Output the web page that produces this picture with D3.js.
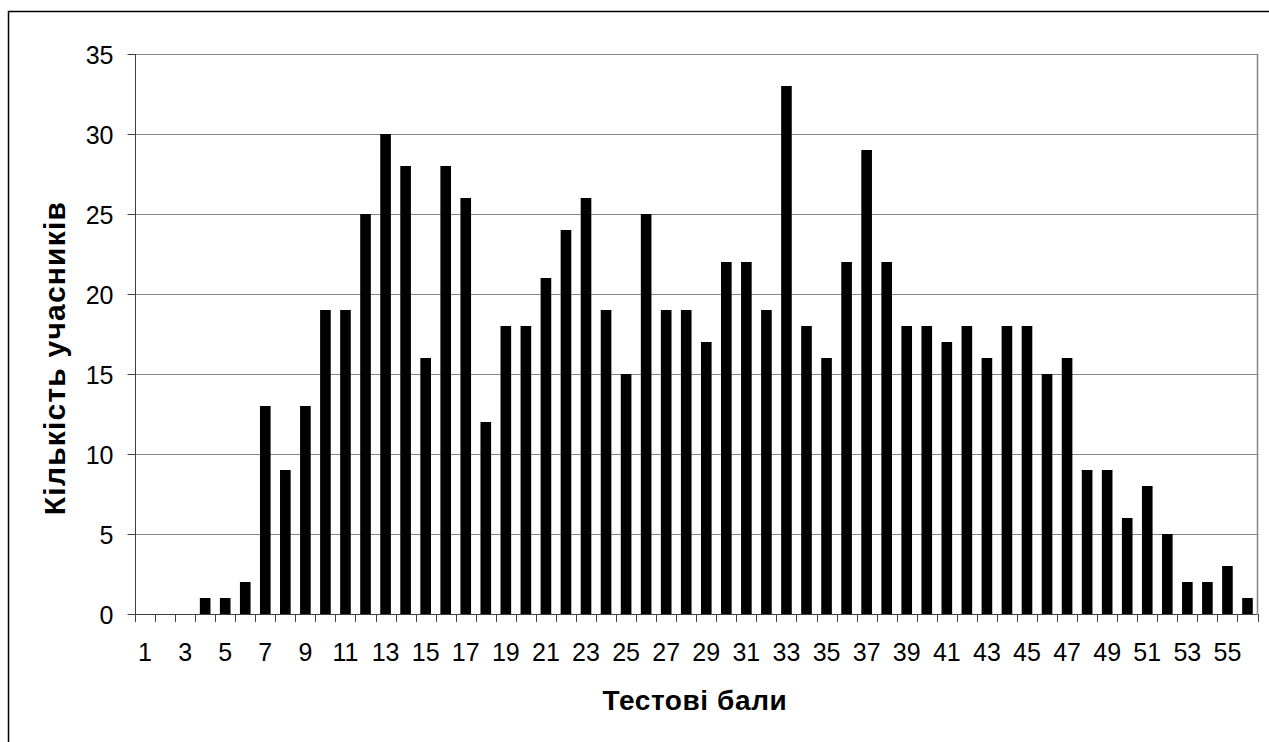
<!DOCTYPE html>
<html>
<head>
<meta charset="utf-8">
<script src="https://cdn.jsdelivr.net/npm/d3@7"></script>
<style>
  html, body { margin: 0; padding: 0; background: #fff; }
  svg { display: block; }
  text { font-family: "Liberation Sans", Arial, sans-serif; fill: #000; }
</style>
</head>
<body>
<svg id="chart" width="1269" height="742"></svg>
<script>
const categories = d3.range(1, 57);
const counts = [0, 0, 0, 1, 1, 2, 13, 9, 13, 19, 19, 25, 30, 28, 16, 28, 26, 12, 18, 18,
                21, 24, 26, 19, 15, 25, 19, 19, 17, 22, 22, 19, 33, 18, 16, 22, 29, 22, 18, 18,
                17, 18, 16, 18, 18, 15, 16, 9, 9, 6, 8, 5, 2, 2, 3, 1];
const yTicks = [0, 5, 10, 15, 20, 25, 30, 35];
const xTitle = "Тестові бали";
const yTitle = "Кількість учасників";

const svg = d3.select("#chart");
const plotLeft = 135, plotRight = 1257.5, plotTop = 54, plotBottom = 614;

// outer chart border
svg.append("rect")
  .attr("x", 8.5).attr("y", 11.5)
  .attr("width", 1300).attr("height", 800)
  .attr("fill", "none").attr("stroke", "#000").attr("stroke-width", 1.5);

const x = d3.scaleBand().domain(categories).range([plotLeft, plotRight])
  .paddingInner(0.47).paddingOuter(0.235);
const y = d3.scaleLinear().domain([0, 35]).range([plotBottom, plotTop]);
const step = x.step();

// gridlines
svg.append("g").selectAll("line").data(yTicks.filter(d => d > 0)).join("line")
  .attr("x1", plotLeft).attr("x2", plotRight)
  .attr("y1", d => Math.round(y(d)) + 0.5).attr("y2", d => Math.round(y(d)) + 0.5)
  .attr("stroke", "#868686").attr("stroke-width", 1);

// right plot border
svg.append("line")
  .attr("x1", plotRight).attr("x2", plotRight).attr("y1", plotTop).attr("y2", plotBottom)
  .attr("stroke", "#868686").attr("stroke-width", 1.5);

// bars
svg.append("g").selectAll("rect").data(categories).join("rect")
  .attr("x", d => x(d))
  .attr("y", (d, i) => y(counts[i]))
  .attr("width", x.bandwidth())
  .attr("height", (d, i) => plotBottom - y(counts[i]))
  .attr("fill", "#000");

// y axis
const yAxis = d3.axisLeft(y).tickValues(yTicks).tickSize(8).tickPadding(14);
const gy = svg.append("g").attr("transform", `translate(${plotLeft + 0.5},0)`).call(yAxis);
gy.select(".domain").attr("stroke", "#404040").attr("d", `M0,${plotTop}V${plotBottom}`);
gy.selectAll(".tick line").attr("stroke", "#404040");
gy.selectAll(".tick text").style("font-size", "25px").attr("dy", "0.36em");

// x axis: labels on odd categories
const xAxis = d3.axisBottom(x).tickValues(categories.filter(d => d % 2 === 1))
  .tickSize(0).tickPadding(29);
const gx = svg.append("g").attr("transform", `translate(0,${plotBottom + 0.5})`).call(xAxis);
gx.select(".domain").attr("stroke", "#404040").attr("d", `M${plotLeft},0H${plotRight}`);
gx.selectAll(".tick text").style("font-size", "25px");

// x ticks at category boundaries
const bounds = d3.range(0, categories.length + 1);
svg.append("g").selectAll("line").data(bounds).join("line")
  .attr("x1", d => Math.round(plotLeft + d * step) + 0.5)
  .attr("x2", d => Math.round(plotLeft + d * step) + 0.5)
  .attr("y1", plotBottom).attr("y2", plotBottom + 8)
  .attr("stroke", "#404040");

// titles
svg.append("text")
  .attr("x", 695).attr("y", 710)
  .attr("text-anchor", "middle")
  .style("font-size", "28px").style("font-weight", "bold")
  .style("letter-spacing", "0.6px")
  .text(xTitle);

svg.append("text")
  .attr("transform", "translate(65,358) rotate(-90)")
  .attr("text-anchor", "middle")
  .style("font-size", "30px").style("font-weight", "bold")
  .style("letter-spacing", "1.2px")
  .text(yTitle);
</script>
</body>
</html>
